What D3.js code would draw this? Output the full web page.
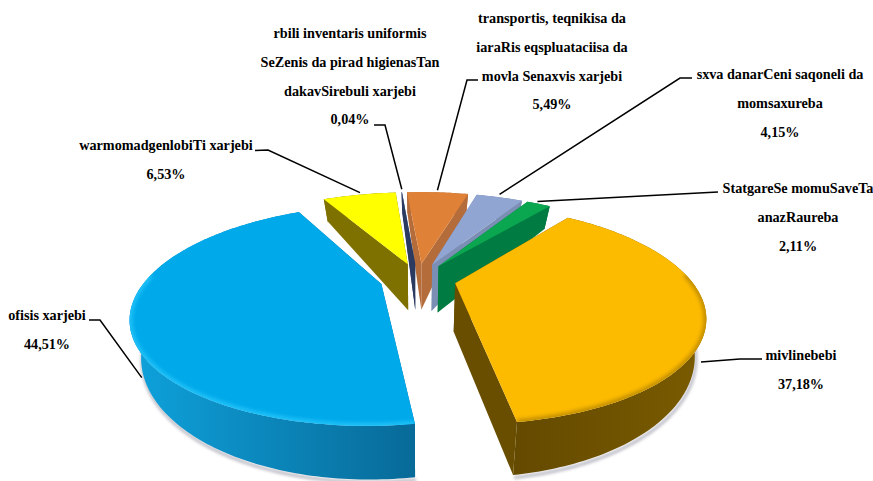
<!DOCTYPE html>
<html><head><meta charset="utf-8">
<script src="https://cdn.jsdelivr.net/npm/d3@7"></script>
<style>html,body{margin:0;padding:0;background:#fff}svg{display:block}text{font-family:"Liberation Serif",serif;font-weight:700;font-size:14.2px;fill:#000}</style>
</head><body><svg id="c" width="873" height="481"></svg>
<script>
// ---- data ----
const categories = ["ofisis xarjebi","warmomadgenlobiTi xarjebi","rbili inventaris uniformis","transportis, teqnikisa da","sxva danarCeni saqoneli da","StatgareSe momuSaveTa","mivlinebebi"];
const categoryExtraLines = [[],[],["SeZenis da pirad higienasTan","dakavSirebuli xarjebi"],["iaraRis eqspluataciisa da","movla Senaxvis xarjebi"],["momsaxureba"],["anazRaureba"],[]];
const values = [44.51,6.53,0.04,5.49,4.15,2.11,37.18];
// ---- colours ----
const topColors  = ["#00a9ea","#ffff00","#2f4a80","#df8238","#91a5d2","#0ba650","#fdbb00"];
const wallColors = ["#0a6f9f","#7f7100","#2a3a60","#b56c3b","#7b8eb3","#007c42","#6a4e00"];
const sideLeft   = ["#0ea2dc","#7f7100","#2a3a60","#b56c3b","#7b8eb3","#007c42","#644a00"];
const sideRight  = ["#086a98","#7f7100","#2a3a60","#b56c3b","#7b8eb3","#007c42","#7a5b00"];
const rimColors  = ["#27c6fa",null,null,null,null,null,"#b98700"];
// ---- layout of the text and leaders ----
const labelCenter = [47,166,350,552,780,798,801];
const labelTop    = [320,150,38,23,79,193,360];
const lineStep = 28.8;
const leaderElbows = [[[89,320],[100,320]],[[255,150.5],[268,150]],[[374,125],[385,125]],[[478,80],[467,80]],[[692,78],[680,78]],[[718,192]],[[762,359],[740,359]]];
const leaderDrop = [0.55,0,0,0,0,0,0.5];
const leaderPull = [1,.985,1,.985,1,.985,1];
const leaderShiftDeg = [-17,0,0,0,0,0,15];
const drawOrder = [3,2,1,4,5,0,6];
// ---- projection ----
const cx=418, cy=279, R=235, RS=99, D=3.6, explode=38, bottomPinch=0.96;
const startDeg = 171.7;
const project = (wx,wy)=>{const n=wy/R,p=D/(D-n);return {x:cx+wx*p,y:cy+n*RS*p,p};};
const pie = d3.pie().sort(null).value(d=>d)
  .startAngle(startDeg*Math.PI/180).endAngle((startDeg+360)*Math.PI/180);
const arcs = pie(values);
const svg = d3.select("#c");
const defs = svg.append("defs");
defs.append("filter").attr("id","soft").attr("x","-20%").attr("y","-20%").attr("width","140%").attr("height","140%")
  .append("feGaussianBlur").attr("stdDeviation",2.2);
defs.append("filter").attr("id","shadow").attr("x","-10%").attr("y","-10%").attr("width","120%").attr("height","120%")
  .append("feGaussianBlur").attr("stdDeviation",1.6);
const line = d3.line().x(d=>d[0]).y(d=>d[1]);
const pinch = x=>cx+(x-cx)*bottomPinch;
const slices = arcs.map((a,i)=>{
  const mid=(a.startAngle+a.endAngle)/2;
  const ox=explode*Math.sin(mid), oy=-explode*Math.cos(mid);
  const world=(th,r)=>project(ox+r*Math.sin(th),oy-r*Math.cos(th));
  const drop=(q,r)=>32*Math.pow(q.p,1.5)+16*(1-r/R);
  const n=Math.max(2,Math.ceil((a.endAngle-a.startAngle)*180/Math.PI));
  const ths=d3.range(n+1).map(k=>a.startAngle+(a.endAngle-a.startAngle)*k/n);
  const rim=ths.map(t=>world(t,R));
  const apex=world(0,0);
  const up=q=>[q.x,q.y];
  const dn=(q,r)=>[pinch(q.x),q.y+drop(q,r)];
  return {i,mid,world,drop,ths,rim,apex,
    top:[up(apex),...rim.map(up)],
    outer:[...rim.map(up),...rim.slice().reverse().map(q=>dn(q,R))],
    wallA:[up(apex),up(rim[0]),dn(rim[0],R),dn(apex,0)],
    wallB:[up(apex),up(rim[n]),dn(rim[n],R),dn(apex,0)]};
});
// soft grey shadow under the two large pieces
[0,6].forEach(i=>{const s=slices[i];
  svg.append("path").attr("d",line(s.rim.map(q=>[pinch(q.x)+1,q.y+s.drop(q,R)+2.5])))
    .attr("fill","none").attr("stroke","#b9b9c4").attr("stroke-width",3).attr("filter","url(#shadow)");});
drawOrder.forEach(i=>{
  const s=slices[i];
  const xs=s.outer.map(d=>d[0]);
  const gid="side"+i;
  const g=defs.append("linearGradient").attr("id",gid).attr("gradientUnits","userSpaceOnUse")
    .attr("x1",d3.min(xs)).attr("x2",d3.max(xs)).attr("y1",0).attr("y2",0);
  g.append("stop").attr("offset",0).attr("stop-color",sideLeft[i]);
  g.append("stop").attr("offset",1).attr("stop-color",sideRight[i]);
  const G=svg.append("g");
  G.append("path").attr("d",line(s.wallA)+"Z").attr("fill",wallColors[i]);
  G.append("path").attr("d",line(s.wallB)+"Z").attr("fill",wallColors[i]);
  G.append("path").attr("d",line(s.outer)+"Z").attr("fill",`url(#${gid})`);
  G.append("path").attr("d",line(s.top)+"Z").attr("fill",topColors[i]);
  if(rimColors[i]){
    const cid="clip"+i;
    defs.append("clipPath").attr("id",cid).append("path").attr("d",line(s.top)+"Z");
    const front=s.rim.filter((q,k)=>Math.cos(s.ths[k])<0.1).map(q=>[q.x,q.y]);
    G.append("g").attr("clip-path",`url(#${cid})`).append("path").attr("d",line(front))
      .attr("fill","none").attr("stroke",rimColors[i]).attr("stroke-width",5).attr("filter","url(#soft)");
  }
});
// leaders: elbows are layout, the end sits on the slice
const fmt=v=>d3.format(".2f")(v).replace(".",",");
slices.forEach(s=>{
  const i=s.i, q=s.world(s.mid+leaderShiftDeg[i]*Math.PI/180,R*leaderPull[i]);
  const end=[q.x,q.y+leaderDrop[i]*s.drop(q,R)-(leaderDrop[i]?0:3)];
  svg.append("path").attr("d",line([...leaderElbows[i],end])).attr("fill","none")
    .attr("stroke","#000").attr("stroke-width",1.5);
});
// labels
categories.forEach((c,i)=>{
  const lines=[c,...categoryExtraLines[i],fmt(values[i])+"%"];
  svg.append("g").selectAll("text").data(lines).join("text")
    .attr("x",labelCenter[i]).attr("y",(d,k)=>labelTop[i]+k*lineStep)
    .attr("text-anchor","middle").text(d=>d);
});
</script></body></html>
